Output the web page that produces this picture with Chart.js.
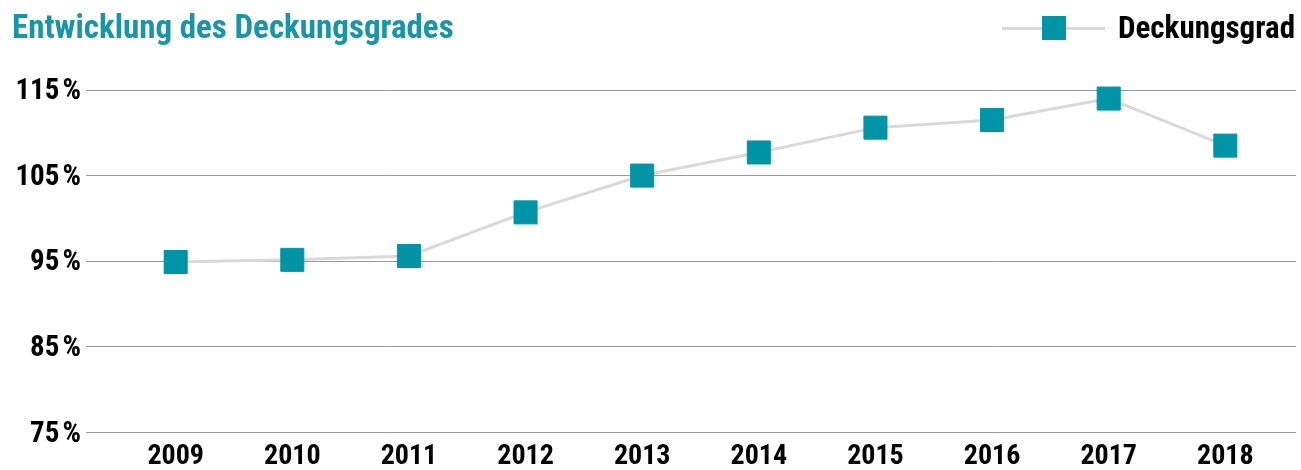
<!DOCTYPE html>
<html lang="de">
<head>
<meta charset="utf-8">
<title>Entwicklung des Deckungsgrades</title>
<script src="https://cdn.jsdelivr.net/npm/chart.js@4.4.1/dist/chart.umd.min.js"></script>
<style>
    html, body { margin: 0; padding: 0; background: #fff; }
    #wrap { position: relative; width: 1301px; height: 470px; overflow: hidden; }
    #chart { position: absolute; left: 0; top: 0; }
    .cond { font-family: "Roboto Condensed", "Roboto", sans-serif; font-weight: bold; font-stretch: 75%; }
    #title { position: absolute; left: 12px; top: 9.5px; font-size: 33px; line-height: 1; color: #1895a6; white-space: nowrap; }
    #legend { position: absolute; right: 6px; top: 12px; font-size: 31px; line-height: 1; color: #000; white-space: nowrap; }
    #legendLine { position: absolute; left: 1002px; top: 27px; width: 103px; height: 3px; background: #d9d9d9; }
    #legendBox { position: absolute; left: 1042px; top: 16px; width: 24px; height: 24px; background: #0094a6; }
</style>
</head>
<body>
<div id="wrap">
    <canvas id="chart" width="1301" height="470"></canvas>
    <div id="title" class="cond">Entwicklung des Deckungsgrades</div>
    <div id="legendLine"></div>
    <div id="legendBox"></div>
    <div id="legend" class="cond">Deckungsgrad</div>
</div>
<script>
// Deckungsgrad je Jahr (in %)
const years = [2009, 2010, 2011, 2012, 2013, 2014, 2015, 2016, 2017, 2018];
const coverage = [94.9, 95.15, 95.6, 100.7, 105.0, 107.7, 110.6, 111.5, 114.0, 108.5];
const yTicks = [75, 85, 95, 105, 115];

const teal = "#0094a6";
const fontFamily = '"Roboto Condensed", "Roboto", sans-serif';

const ctx = document.getElementById("chart");

new Chart(ctx, {
    type: "line",
    data: {
        datasets: [{
            label: "Deckungsgrad",
            data: years.map((y, i) => ({ x: y, y: coverage[i] })),
            borderColor: "#d9d9d9",
            borderWidth: 3,
            tension: 0,
            clip: false,
            pointStyle: "rect",
            pointRadius: 16.3,
            pointHoverRadius: 16.3,
            pointBackgroundColor: teal,
            pointBorderColor: teal,
            pointBorderWidth: 1
        }]
    },
    options: {
        responsive: false,
        animation: false,
        events: [],
        layout: { autoPadding: false, padding: { left: 0, right: 5, top: 90, bottom: 0 } },
        plugins: {
            legend: { display: false },
            title: { display: false },
            tooltip: { enabled: false }
        },
        scales: {
            x: {
                type: "linear",
                min: 2008.231,
                max: 2018.606,
                afterBuildTicks: axis => { axis.ticks = years.map(v => ({ value: v })); },
                afterFit: scale => {
                    scale.height = 37.7;
                    scale.paddingLeft = 0;
                    scale.paddingRight = 0;
                },
                border: { display: false },
                grid: { display: false, drawTicks: false },
                ticks: {
                    autoSkip: false,
                    maxRotation: 0,
                    padding: 8,
                    color: "#000",
                    font: { family: fontFamily, size: 28, weight: "bold" },
                    callback: v => String(v)
                }
            },
            y: {
                min: 75,
                max: 115,
                afterBuildTicks: axis => { axis.ticks = yTicks.map(v => ({ value: v })); },
                afterFit: scale => { scale.width = 86; },
                border: { display: false },
                grid: { color: "#999", lineWidth: 1, drawTicks: false },
                ticks: {
                    padding: 5,
                    labelOffset: 2,
                    color: "#000",
                    font: { family: fontFamily, size: 29, weight: "bold" },
                    callback: v => v + "\u200a%"
                }
            }
        }
    }
});
</script>
</body>
</html>
